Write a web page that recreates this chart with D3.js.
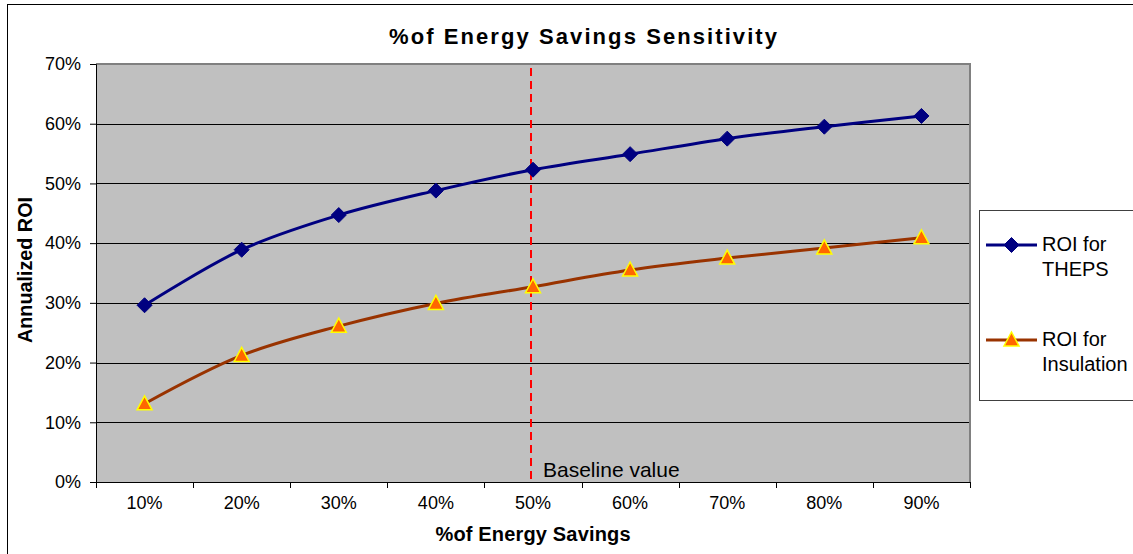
<!DOCTYPE html>
<html>
<head>
<meta charset="utf-8">
<script src="https://cdn.jsdelivr.net/npm/d3@7"></script>
<style>
  html, body { margin: 0; padding: 0; background: #fff; overflow: hidden; }
  svg { display: block; font-family: "Liberation Sans", Arial, sans-serif; }
</style>
</head>
<body>
<svg id="chart" width="1133" height="554"></svg>
<script>
// ---- data ----
const categories = ["10%", "20%", "30%", "40%", "50%", "60%", "70%", "80%", "90%"];
const roiTheps = [0.296, 0.389, 0.447, 0.488, 0.523, 0.549, 0.575, 0.595, 0.613];
const roiInsulation = [0.131, 0.212, 0.261, 0.299, 0.327, 0.355, 0.375, 0.392, 0.409];
const yTicks = [0, 0.1, 0.2, 0.3, 0.4, 0.5, 0.6, 0.7];
const seriesNames = ["ROI for THEPS", "ROI for Insulation"];
const baselineCategory = "50%";
const titleText = "%of Energy Savings Sensitivity";
const xTitle = "%of Energy Savings";
const yTitle = "Annualized ROI";
const baselineLabel = "Baseline value";

// ---- layout ----
const svg = d3.select("#chart");
const plot = { left: 96, right: 970, top: 64, bottom: 482 };

const x = d3.scaleBand().domain(categories).range([plot.left, plot.right]).padding(0);
const y = d3.scaleLinear().domain([0, 0.7]).range([plot.bottom, plot.top]);
const cx = c => x(c) + x.bandwidth() / 2;

// outer chart border
svg.append("rect").attr("x", 7.5).attr("y", 4.5).attr("width", 1140).attr("height", 560)
  .attr("fill", "#fff").attr("stroke", "#000").attr("stroke-width", 1);

// plot area
svg.append("rect").attr("x", plot.left).attr("y", plot.top)
  .attr("width", plot.right - plot.left).attr("height", plot.bottom - plot.top)
  .attr("fill", "#c0c0c0");
// top/right gray border
svg.append("path")
  .attr("d", `M${plot.left},${plot.top} H${plot.right} V${plot.bottom}`)
  .attr("fill", "none").attr("stroke", "#808080").attr("stroke-width", 2);

// gridlines
svg.append("g").selectAll("line").data(yTicks.filter(t => t > 0 && t < 0.7)).join("line")
  .attr("x1", plot.left).attr("x2", plot.right - 1)
  .attr("y1", d => Math.round(y(d)) + 0.5).attr("y2", d => Math.round(y(d)) + 0.5)
  .attr("stroke", "#000").attr("stroke-width", 1);

// y axis
const yAxis = d3.axisLeft(y).tickValues(yTicks).tickFormat(d3.format(".0%")).tickSize(6).tickPadding(9);
const gy = svg.append("g").attr("transform", `translate(${plot.left},0)`).call(yAxis);
gy.select(".domain").attr("stroke", "#000");
gy.selectAll(".tick line").attr("stroke", "#000");
gy.selectAll(".tick text").attr("font-size", 18).attr("fill", "#000")
  .attr("font-family", "Liberation Sans, Arial, sans-serif");

// x axis (labels)
const xAxis = d3.axisBottom(x).tickSize(0).tickPadding(14);
const gx = svg.append("g").attr("transform", `translate(0,${plot.bottom})`).call(xAxis);
gx.select(".domain").remove();
gx.selectAll(".tick text").attr("font-size", 18).attr("fill", "#000")
  .attr("font-family", "Liberation Sans, Arial, sans-serif");
// x axis line and boundary ticks
svg.append("line").attr("x1", plot.left - 6).attr("x2", plot.right)
  .attr("y1", plot.bottom + 0.5).attr("y2", plot.bottom + 0.5).attr("stroke", "#000");
const bounds = categories.map(c => x(c)).concat([x(categories[categories.length - 1]) + x.bandwidth()]);
svg.append("g").selectAll("line").data(bounds).join("line")
  .attr("x1", d => Math.round(d) + 0.5).attr("x2", d => Math.round(d) + 0.5)
  .attr("y1", plot.bottom).attr("y2", plot.bottom + 6).attr("stroke", "#000");

// baseline dashed line
const bx = cx(baselineCategory) - 2;
svg.append("line").attr("x1", bx).attr("x2", bx)
  .attr("y1", y(0.7) + 4).attr("y2", plot.bottom)
  .attr("stroke", "#ff0000").attr("stroke-width", 2).attr("stroke-dasharray", "8,5");
svg.append("text").attr("x", bx + 12).attr("y", plot.bottom - 5)
  .attr("font-size", 21).attr("fill", "#000").text(baselineLabel);

// lines
const line = d3.line().x((d, i) => cx(categories[i])).y(d => y(d)).curve(d3.curveCatmullRom.alpha(0.5));
svg.append("path").datum(roiTheps).attr("d", line)
  .attr("fill", "none").attr("stroke", "#000080").attr("stroke-width", 3);
svg.append("path").datum(roiInsulation).attr("d", line)
  .attr("fill", "none").attr("stroke", "#993300").attr("stroke-width", 3);

// markers
const diamond = d3.symbol().type(d3.symbolDiamond2).size(100);
const diamondPath = "M0,-7.5 L7.5,0 L0,7.5 L-7.5,0 Z";
const triPath = "M0,-8 L7.5,6 L-7.5,6 Z";
svg.append("g").selectAll("path").data(roiTheps).join("path")
  .attr("d", diamondPath)
  .attr("transform", (d, i) => `translate(${cx(categories[i])},${y(d)})`)
  .attr("fill", "#000080").attr("stroke", "#000080").attr("stroke-width", 1);
svg.append("g").selectAll("path").data(roiInsulation).join("path")
  .attr("d", triPath)
  .attr("transform", (d, i) => `translate(${cx(categories[i])},${y(d)})`)
  .attr("fill", "#ff6600").attr("stroke", "#ffff00").attr("stroke-width", 1.5);

// title
svg.append("text").attr("x", 583).attr("y", 44).attr("text-anchor", "middle")
  .attr("font-size", 22).attr("font-weight", "bold").attr("fill", "#000")
  .attr("textLength", 388).attr("lengthAdjust", "spacing").text(titleText);

// axis titles
svg.append("text").attr("x", 533).attr("y", 541).attr("text-anchor", "middle")
  .attr("font-size", 20).attr("font-weight", "bold").attr("fill", "#000")
  .attr("textLength", 195).attr("lengthAdjust", "spacing").text(xTitle);
svg.append("text").attr("transform", "translate(32,270) rotate(-90)").attr("text-anchor", "middle")
  .attr("font-size", 20).attr("font-weight", "bold").attr("fill", "#000")
  .attr("textLength", 146).attr("lengthAdjust", "spacingAndGlyphs").text(yTitle);

// legend
const lg = svg.append("g");
lg.append("rect").attr("x", 979.5).attr("y", 210.5).attr("width", 200).attr("height", 190)
  .attr("fill", "#fff").attr("stroke", "#404040").attr("stroke-width", 1);
const legendItems = [
  { name: seriesNames[0], color: "#000080", marker: diamondPath, fill: "#000080", stroke: "#000080", sw: 1, y: 245 },
  { name: seriesNames[1], color: "#993300", marker: triPath, fill: "#ff6600", stroke: "#ffff00", sw: 1.5, y: 340 }
];
legendItems.forEach(it => {
  lg.append("line").attr("x1", 986).attr("x2", 1037).attr("y1", it.y).attr("y2", it.y)
    .attr("stroke", it.color).attr("stroke-width", 3);
  lg.append("path").attr("d", it.marker).attr("transform", `translate(1011.5,${it.y})`)
    .attr("fill", it.fill).attr("stroke", it.stroke).attr("stroke-width", it.sw);
  const words = it.name.split(" ");
  const l1 = words.slice(0, 2).join(" ");
  const l2 = words.slice(2).join(" ");
  lg.append("text").attr("x", 1042).attr("y", it.y + 6).attr("font-size", 20).attr("fill", "#000").text(l1);
  lg.append("text").attr("x", 1042).attr("y", it.y + 31).attr("font-size", 20).attr("fill", "#000").text(l2);
});
</script>
</body>
</html>
